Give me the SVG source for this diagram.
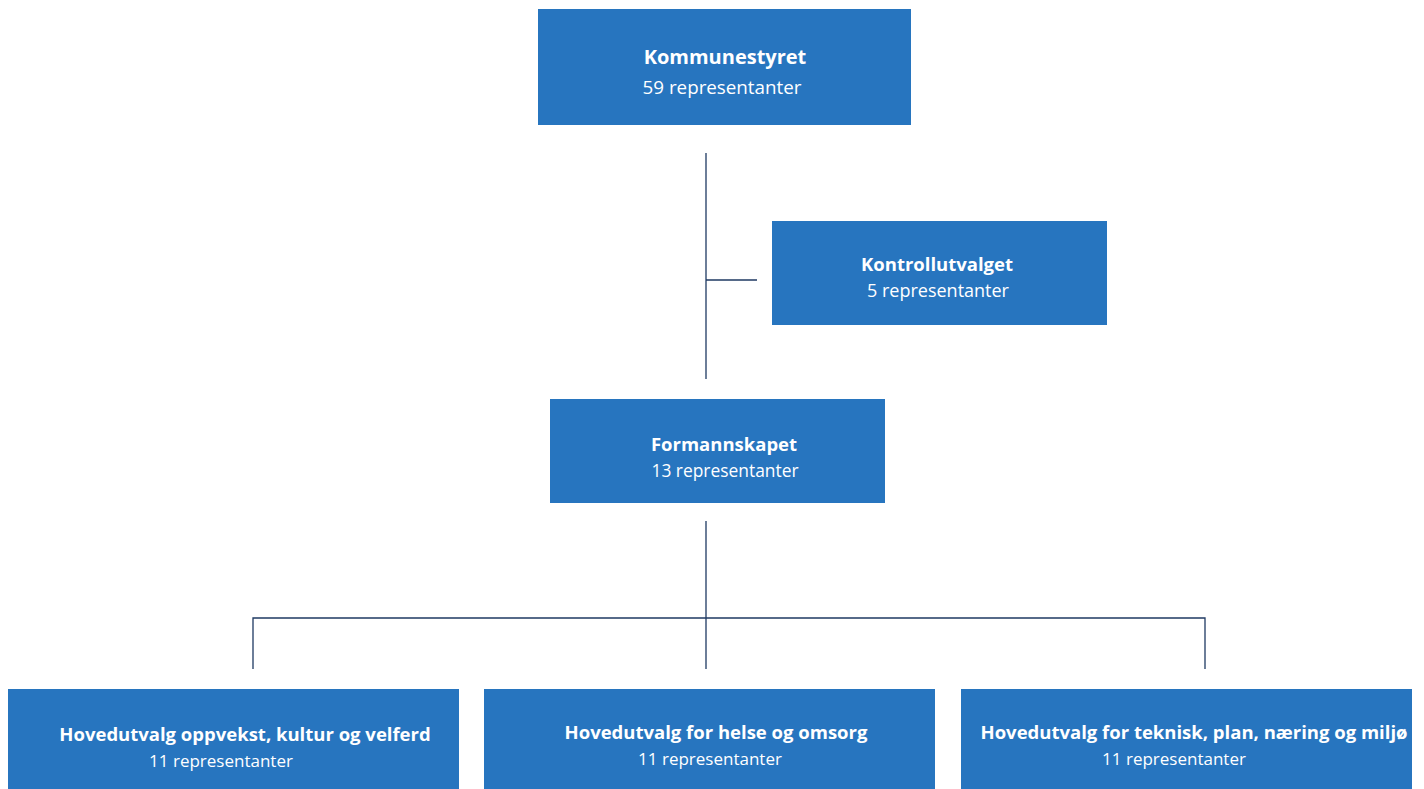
<svg xmlns="http://www.w3.org/2000/svg" width="1424" height="789" viewBox="0 0 1424 789">
<style>
.box{fill:#2775bf}
.t{font-family:"Open Sans",Lato,sans-serif;font-weight:700;font-size:18.5px;fill:#fff;text-anchor:middle}
.s{font-family:"Open Sans",Lato,sans-serif;font-weight:400;font-size:17px;fill:#fff;text-anchor:middle}
.c{stroke:#1f3a63;stroke-width:1.3;fill:none}
</style>
<rect width="1424" height="789" fill="#fff"/>
<g id="connectors">
<path class="c" d="M706 153V379M706 280H757M706 521V669M253 669V618H1205V669"/>
</g>
<g id="kommunestyret">
<rect class="box" x="538" y="9" width="373" height="116"/>
<text class="t" x="725" y="64" style="font-size:20px">Kommunestyret</text>
<text class="s" x="722" y="94" style="font-size:18.8px">59 representanter</text>
</g>
<g id="kontrollutvalget">
<rect class="box" x="772" y="221" width="335" height="104"/>
<text class="t" x="937" y="271">Kontrollutvalget</text>
<text class="s" x="938" y="297" style="font-size:18px">5 representanter</text>
</g>
<g id="formannskapet">
<rect class="box" x="550" y="399" width="335" height="104"/>
<text class="t" x="724" y="451">Formannskapet</text>
<text class="s" x="725" y="477" style="font-size:17.4px">13 representanter</text>
</g>
<g id="oppvekst">
<rect class="box" x="8" y="689" width="451" height="110"/>
<text class="t" x="245" y="741">Hovedutvalg oppvekst, kultur og velferd</text>
<text class="s" x="221" y="767">11 representanter</text>
</g>
<g id="helse">
<rect class="box" x="484" y="689" width="451" height="110"/>
<text class="t" x="716" y="739">Hovedutvalg for helse og omsorg</text>
<text class="s" x="710" y="765">11 representanter</text>
</g>
<g id="teknisk">
<rect class="box" x="961" y="689" width="451" height="110"/>
<text class="t" x="1194" y="739">Hovedutvalg for teknisk, plan, næring og miljø</text>
<text class="s" x="1174" y="765">11 representanter</text>
</g>
</svg>
